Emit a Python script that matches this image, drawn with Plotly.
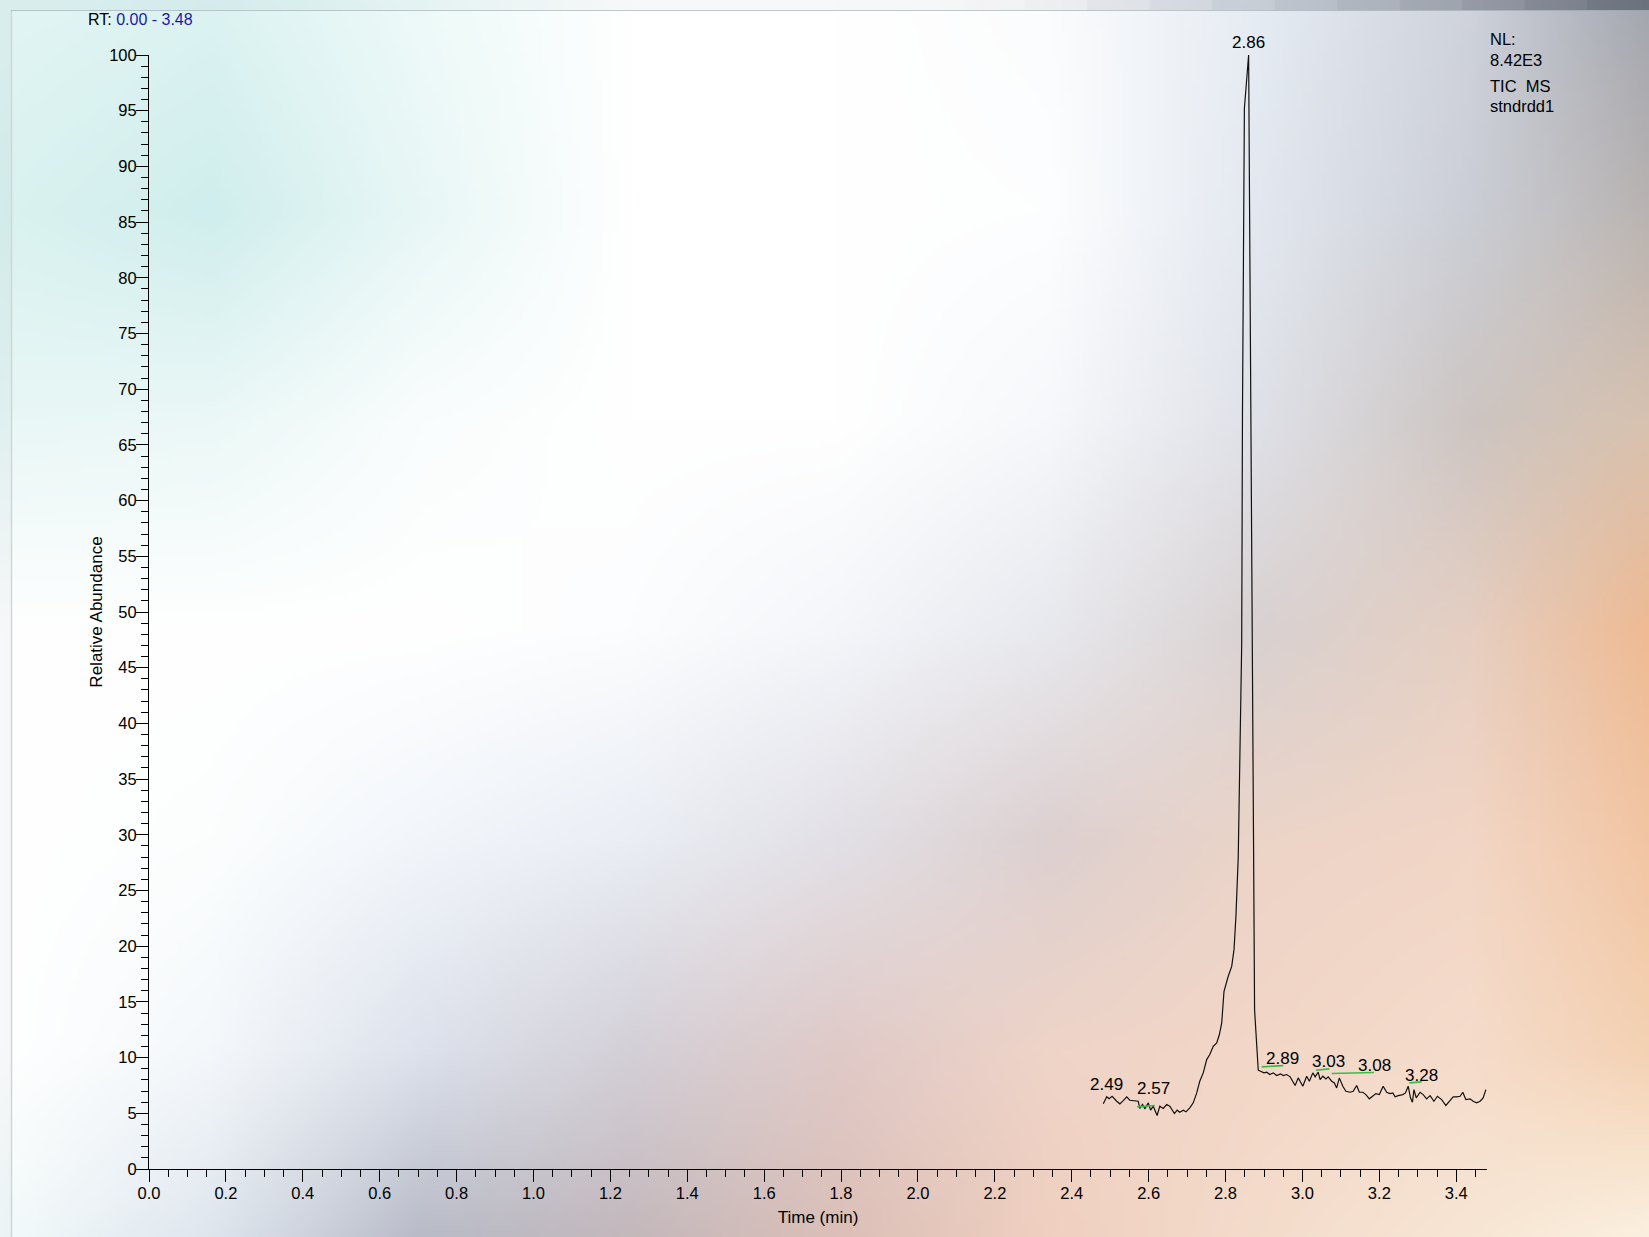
import base64, struct, zlib
import numpy as np
import plotly.graph_objects as go

# ---------------- data ----------------
time_min = [2.482, 2.491, 2.497, 2.505, 2.517, 2.525, 2.534, 2.543, 2.551, 2.564,
            2.573, 2.577, 2.584, 2.590, 2.599, 2.605, 2.612, 2.622, 2.629, 2.638,
            2.647, 2.655, 2.667, 2.674, 2.681, 2.690, 2.697, 2.707, 2.716, 2.725,
            2.733, 2.742, 2.751, 2.759, 2.768, 2.777, 2.784, 2.790, 2.796, 2.807,
            2.816, 2.822, 2.827, 2.833, 2.836, 2.842, 2.844, 2.849, 2.860, 2.8755,
            2.885, 2.891, 2.900, 2.907, 2.915, 2.924, 2.933, 2.943, 2.950, 2.959,
            2.968, 2.981, 2.989, 3.001, 3.011, 3.018, 3.027, 3.033, 3.041, 3.046,
            3.053, 3.061, 3.067, 3.076, 3.083, 3.089, 3.096, 3.105, 3.113, 3.124,
            3.132, 3.141, 3.148, 3.157, 3.165, 3.174, 3.183, 3.191, 3.200, 3.210,
            3.219, 3.228, 3.235, 3.241, 3.249, 3.261, 3.268, 3.275, 3.281, 3.286,
            3.290, 3.296, 3.306, 3.314, 3.323, 3.332, 3.342, 3.351, 3.362, 3.373,
            3.382, 3.392, 3.401, 3.410, 3.417, 3.425, 3.436, 3.444, 3.453, 3.462,
            3.470, 3.477]
rel_abundance = [5.85, 6.48, 6.30, 6.53, 6.08, 5.85, 6.14, 6.48, 6.17, 6.14,
                 6.08, 5.43, 5.79, 5.40, 5.94, 5.28, 5.64, 4.80, 5.64, 5.43,
                 5.79, 5.64, 4.98, 5.28, 5.10, 5.28, 5.13, 5.49, 5.94, 6.83,
                 7.88, 8.63, 9.82, 10.27, 11.02, 11.32, 12.07, 13.11, 15.95, 17.30,
                 18.19, 19.69, 22.68, 28.00, 33.60, 47.10, 67.75, 95.20, 100.00, 14.30,
                 8.87, 8.78, 8.63, 8.69, 8.48, 8.63, 8.39, 8.54, 8.39, 8.48,
                 8.27, 7.49, 8.18, 7.43, 8.33, 7.88, 8.63, 8.27, 8.69, 8.03,
                 8.33, 8.09, 8.27, 7.88, 7.73, 7.28, 8.18, 7.43, 6.98, 6.89,
                 6.98, 7.49, 6.89, 6.89, 6.68, 6.30, 6.59, 6.77, 6.68, 7.43,
                 6.89, 6.77, 6.83, 6.48, 6.59, 6.68, 6.83, 7.43, 6.39, 5.99,
                 7.13, 6.39, 6.89, 6.68, 6.30, 6.59, 6.08, 6.53, 6.23, 5.70,
                 6.08, 6.48, 6.48, 6.53, 6.89, 6.23, 6.30, 6.08, 5.94, 6.08,
                 6.39, 7.13]

# peak labels (text, time, abundance at label centre)
peak_text = ["2.86", "2.49", "2.57", "2.89", "3.03", "3.08", "3.28"]
peak_time = [2.860, 2.4906, 2.6128, 2.9485, 3.0684, 3.1873, 3.3088]
peak_level = [101.14, 7.62, 7.20, 9.89, 9.63, 9.27, 8.43]

# green integration marks
mark_start = [2.570, 2.894, 3.035, 3.076, 3.278]
mark_end = [2.616, 2.950, 3.070, 3.186, 3.310]
mark_y_start = [5.58, 9.17, 8.86, 8.57, 7.73]
mark_y_end = [5.70, 9.28, 8.99, 8.66, 7.82]

rt_range = "0.00 - 3.48"
nl_lines = ["NL:", "8.42E3", "TIC\u00a0 MS", "stndrdd1"]

# ---------------- style ----------------
W, H = 1649, 1237
ML, MR, MT, MB = 149, 162, 55, 68
PW, PH = W - ML - MR, H - MT - MB
FONT = "Liberation Sans, Arial, Helvetica, sans-serif"
Y_MAX = 100

# background wash (desktop showing through), colour grid in reference coords
BG_X = [0, 200, 400, 600, 800, 1000, 1200, 1400, 1568]
BG_Y = [0, 200, 400, 600, 800, 1000, 1176]
BG_HEX = [
    ["e2f5f4", "dcf3f2", "eefaf9", "ffffff", "ffffff", "fbfcfd", "e6ecf3", "cfd3dc", "a4a7b0"],
    ["daf2f0", "d0eeed", "e8f7f6", "ffffff", "ffffff", "fdfeff", "e3e8f0", "cbced6", "bab4b2"],
    ["e9f7f6", "ebf8f7", "fafdfd", "ffffff", "ffffff", "f6f8fb", "dfe1e8", "cdc5c2", "d8c2b0"],
    ["ffffff", "ffffff", "ffffff", "fcfdfe", "f4f6fa", "e8e9ee", "d9d1d1", "e6cfc2", "efbb94"],
    ["ffffff", "fcfefe", "f2f6fb", "eaeef5", "e2e0e6", "ddd0d0", "ecd4c8", "f2d6c6", "f2c6a4"],
    ["ffffff", "f4f8fb", "dde2ec", "d4d0d8", "e0cac8", "efd4c8", "f3d7c7", "f5dccb", "f4d2b4"],
    ["f4fbfb", "dfe6ee", "b9bcc8", "c4b8bc", "dcc0b8", "f0d0c0", "f4dccb", "f8e6d4", "fbf0e0"],
]


def bg_png():
    g = np.array([[[int(h[i:i + 2], 16) for i in (0, 2, 4)] for h in row] for row in BG_HEX], float)
    gw, gh = 330, 248
    xs = np.linspace(0, 1568, gw)
    ys = np.linspace(0, 1176, gh)
    rows = np.empty((len(BG_Y), gw, 3))
    for j in range(len(BG_Y)):
        for c in range(3):
            rows[j, :, c] = np.interp(xs, BG_X, g[j, :, c])
    img = np.empty((gh, gw, 3))
    for i in range(gw):
        for c in range(3):
            img[:, i, c] = np.interp(ys, BG_Y, rows[:, i, c])
    arr = np.clip(img, 0, 255).astype(np.uint8)
    raw = b"".join(b"\x00" + arr[k].tobytes() for k in range(gh))

    def chunk(tag, data):
        return struct.pack(">I", len(data)) + tag + data + struct.pack(">I", zlib.crc32(tag + data) & 0xFFFFFFFF)

    png = (b"\x89PNG\r\n\x1a\n" + chunk(b"IHDR", struct.pack(">IIBBBBB", gw, gh, 8, 2, 0, 0, 0))
           + chunk(b"IDAT", zlib.compress(raw, 9)) + chunk(b"IEND", b""))
    return "data:image/png;base64," + base64.b64encode(png).decode()


def px_x(p):
    return (p - ML) / PW


def px_y(p):
    return (H - MB - p) / PH


fig = go.Figure()

fig.add_trace(go.Scatter(
    x=time_min, y=rel_abundance, mode="lines",
    line=dict(color="#111111", width=1.2), cliponaxis=False, hoverinfo="x+y", showlegend=False))

mx, my = [], []
for a, b, ya, yb in zip(mark_start, mark_end, mark_y_start, mark_y_end):
    mx += [a, b, None]
    my += [ya, yb, None]
fig.add_trace(go.Scatter(x=mx, y=my, mode="lines", line=dict(color="#3dba4a", width=1.6),
                         hoverinfo="skip", showlegend=False))

for t, xv, yv in zip(peak_text, peak_time, peak_level):
    yin = min(yv, Y_MAX)
    fig.add_annotation(x=xv, y=yin, xref="x", yref="y", text=t, showarrow=False,
                       yshift=(yv - yin) * PH / Y_MAX,
                       xanchor="center", yanchor="middle", font=dict(size=17, color="#000000"))

fig.add_annotation(xref="paper", yref="paper", x=px_x(86), y=px_y(19),
                   xanchor="left", yanchor="middle", showarrow=False,
                   text="RT: <span style='color:#1a1aa8'>" + rt_range + "</span>",
                   font=dict(size=16, color="#000000"))

for line, ypix in zip(nl_lines, [39, 60, 86, 105.5]):
    fig.add_annotation(xref="paper", yref="paper", x=px_x(1488), y=px_y(ypix),
                       xanchor="left", yanchor="middle", showarrow=False, text=line,
                       font=dict(size=16.5, color="#000000"))

fig.add_layout_image(dict(source=bg_png(), xref="paper", yref="paper",
                          x=-ML / PW, y=1 + MT / PH, sizex=W / PW, sizey=H / PH,
                          xanchor="left", yanchor="top", sizing="stretch", layer="below"))

# window frame: darker strip above the panel and a thin border
n_seg = 12
for k in range(n_seg):
    xa = 900 + k * (W - 900) / n_seg
    xb = 900 + (k + 1) * (W - 900) / n_seg
    fig.add_shape(type="rect", xref="paper", yref="paper", x0=px_x(xa), x1=px_x(xb),
                  y0=px_y(10), y1=px_y(0), line_width=0, layer="below",
                  fillcolor="rgba(40,48,64,%.3f)" % (0.03 + 0.42 * (k / (n_seg - 1)) ** 1.5))
fig.add_shape(type="rect", xref="paper", yref="paper", x0=px_x(0), x1=px_x(900),
              y0=px_y(10), y1=px_y(0), line_width=0, layer="below", fillcolor="rgba(0,40,50,0.03)")
fig.add_shape(type="rect", xref="paper", yref="paper", x0=px_x(0), x1=px_x(11),
              y0=px_y(H), y1=px_y(10), line_width=0, layer="below", fillcolor="rgba(0,40,50,0.03)")
fig.add_shape(type="line", xref="paper", yref="paper", x0=px_x(11.5), x1=px_x(11.5),
              y0=px_y(H), y1=px_y(10), line=dict(color="#cfd6d8", width=1.5))
fig.add_shape(type="line", xref="paper", yref="paper", x0=px_x(11), x1=px_x(W),
              y0=px_y(10.5), y1=px_y(10.5), line=dict(color="rgba(150,165,170,0.6)", width=1))

axis_common = dict(showline=True, linecolor="#000000", linewidth=1, showgrid=False, zeroline=False,
                   ticks="outside", ticklen=12, tickwidth=1, tickcolor="#000000",
                   tickfont=dict(size=16.5, color="#000000"), automargin=False)

fig.update_xaxes(range=[0, 3.48], tick0=0, dtick=0.2, tickformat=".1f", ticklabelstandoff=-3,
                 minor=dict(dtick=0.05, tick0=0, ticks="outside", ticklen=7, tickcolor="#000000", showgrid=False),
                 title=dict(text="Time (min)", font=dict(size=17, color="#000000"), standoff=10),
                 **axis_common)
fig.update_yaxes(range=[0, Y_MAX], tick0=0, dtick=5, ticklabelstandoff=-4,
                 minor=dict(dtick=1, tick0=0, ticks="outside", ticklen=7, tickcolor="#000000", showgrid=False),
                 title=dict(text="Relative Abundance", font=dict(size=17, color="#000000"), standoff=2),
                 **axis_common)

fig.update_layout(width=W, height=H, margin=dict(l=ML, r=MR, t=MT, b=MB, pad=0),
                  paper_bgcolor="#ffffff", plot_bgcolor="rgba(0,0,0,0)",
                  font=dict(family=FONT, color="#000000"), showlegend=False)

fig.write_html("out.html", config={"displayModeBar": False},
               post_script="document.body.style.margin='0';document.body.style.overflow='hidden';")
